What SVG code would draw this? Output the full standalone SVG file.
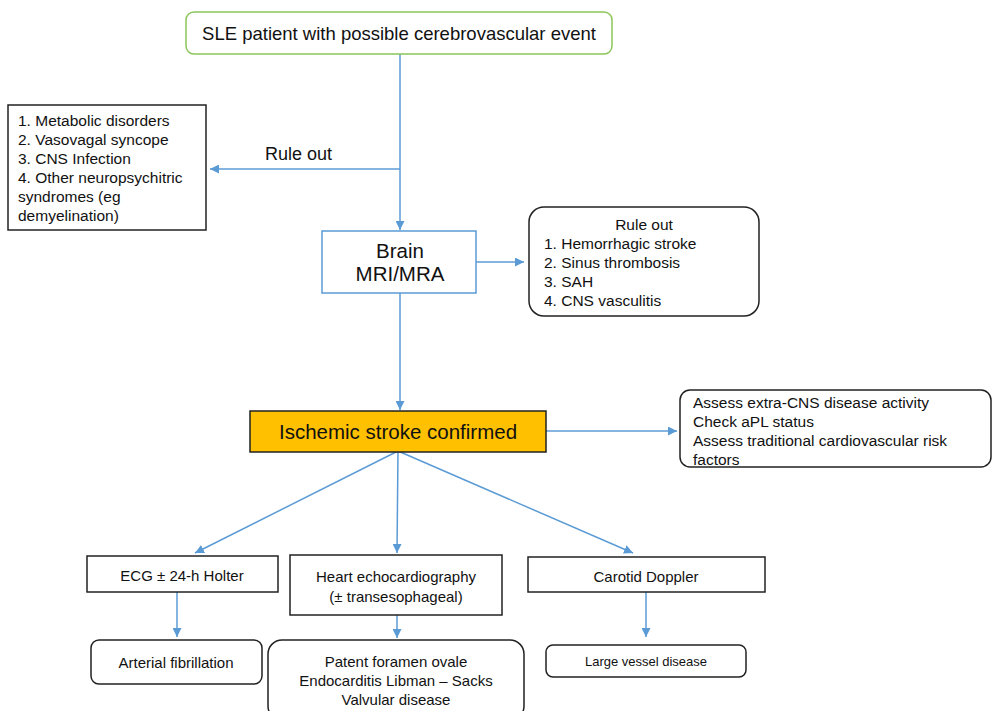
<svg xmlns="http://www.w3.org/2000/svg" width="992" height="711" viewBox="0 0 992 711">
<defs>
<marker id="ah" viewBox="0 0 10 10" refX="10" refY="5" markerWidth="9" markerHeight="9" markerUnits="userSpaceOnUse" orient="auto">
<path d="M0,0 L10,5 L0,10 z" fill="#5b9bd5"/>
</marker>
<style>
text{font-family:"Liberation Sans",Arial,sans-serif;fill:#111;}
.box{fill:#fff;stroke:#222;stroke-width:1.5;}
.c{text-anchor:middle;}
.t15{font-size:15.5px;}
.t15b{font-size:15px;}
.conn line,.conn polyline{stroke:#5b9bd5;stroke-width:1.5;fill:none;marker-end:url(#ah);}
</style>
</defs>
<rect width="992" height="711" fill="#fff"/>

<g class="conn">
<line x1="400" y1="54" x2="400" y2="230"/>
<polyline points="400,169 210,169"/>
<line x1="476" y1="262" x2="524" y2="262"/>
<line x1="400" y1="293" x2="400" y2="410"/>
<line x1="546" y1="431" x2="677" y2="431"/>
<line x1="398" y1="451" x2="195" y2="553"/>
<line x1="398" y1="451" x2="397" y2="553"/>
<line x1="398" y1="451" x2="633" y2="553"/>
<line x1="177" y1="592" x2="177" y2="637"/>
<line x1="397" y1="615" x2="397" y2="638"/>
<line x1="646" y1="592" x2="646" y2="637"/>
</g>
<text x="265" y="160" style="font-size:18px">Rule out</text>

<g id="start">
<rect x="186" y="12" width="426" height="42" rx="8" fill="#fff" stroke="#8cc65a" stroke-width="1.5"/>
<text x="399" y="40" class="c" style="font-size:18.5px">SLE patient with possible cerebrovascular event</text>
</g>

<g id="ruleout-left">
<rect x="8" y="105" width="198" height="125" class="box"/>
<text class="t15" x="18" y="126">1. Metabolic disorders</text>
<text class="t15" x="18" y="145">2. Vasovagal syncope</text>
<text class="t15" x="18" y="164">3. CNS Infection</text>
<text class="t15" x="18" y="183">4. Other neuropsychitric</text>
<text class="t15" x="18" y="202">syndromes (eg</text>
<text class="t15" x="18" y="221">demyelination)</text>
</g>

<g id="brain">
<rect x="322" y="231" width="154" height="62" fill="#fff" stroke="#5b9bd5" stroke-width="1.5"/>
<text x="400" y="258" class="c" style="font-size:20.5px">Brain</text>
<text x="400" y="281" class="c" style="font-size:20.5px">MRI/MRA</text>
</g>

<g id="ruleout-right">
<rect x="529" y="207" width="230" height="109" rx="15" class="box"/>
<text class="t15 c" x="644" y="230">Rule out</text>
<text class="t15" x="544" y="249">1. Hemorrhagic stroke</text>
<text class="t15" x="544" y="268">2. Sinus thrombosis</text>
<text class="t15" x="544" y="287">3. SAH</text>
<text class="t15" x="544" y="306">4. CNS vasculitis</text>
</g>

<g id="ischemic">
<rect x="250" y="411" width="296" height="41" fill="#ffc000" stroke="#222" stroke-width="1.5"/>
<text x="398" y="439" class="c" style="font-size:20.5px">Ischemic stroke confirmed</text>
</g>

<g id="assess">
<rect x="680" y="390" width="311" height="77" rx="10" class="box"/>
<text class="t15" x="693" y="408">Assess extra-CNS disease activity</text>
<text class="t15" x="693" y="427">Check aPL status</text>
<text class="t15" x="693" y="446">Assess traditional cardiovascular risk</text>
<text class="t15" x="693" y="465">factors</text>
</g>

<g id="ecg">
<rect x="87" y="556" width="191" height="36" class="box"/>
<text class="t15b c" x="182" y="581">ECG ± 24-h Holter</text>
</g>

<g id="echo">
<rect x="290" y="555" width="212" height="60" class="box"/>
<text class="t15b c" x="396" y="582">Heart echocardiography</text>
<text class="t15b c" x="396" y="602">(± transesophageal)</text>
</g>

<g id="carotid">
<rect x="528" y="557" width="237" height="35" class="box"/>
<text class="t15b c" x="646" y="582">Carotid Doppler</text>
</g>

<g id="af">
<rect x="91" y="640" width="171" height="44" rx="8" class="box"/>
<text class="t15b c" x="176" y="668">Arterial fibrillation</text>
</g>

<g id="cardiac">
<rect x="268" y="640" width="256" height="80" rx="14" class="box"/>
<text class="t15b c" x="396" y="667">Patent foramen ovale</text>
<text class="t15b c" x="396" y="686">Endocarditis Libman – Sacks</text>
<text class="t15b c" x="396" y="705">Valvular disease</text>
</g>

<g id="lvd">
<rect x="546" y="645" width="200" height="32" rx="7" class="box"/>
<text class="c" x="646" y="666" style="font-size:13px">Large vessel disease</text>
</g>
</svg>
